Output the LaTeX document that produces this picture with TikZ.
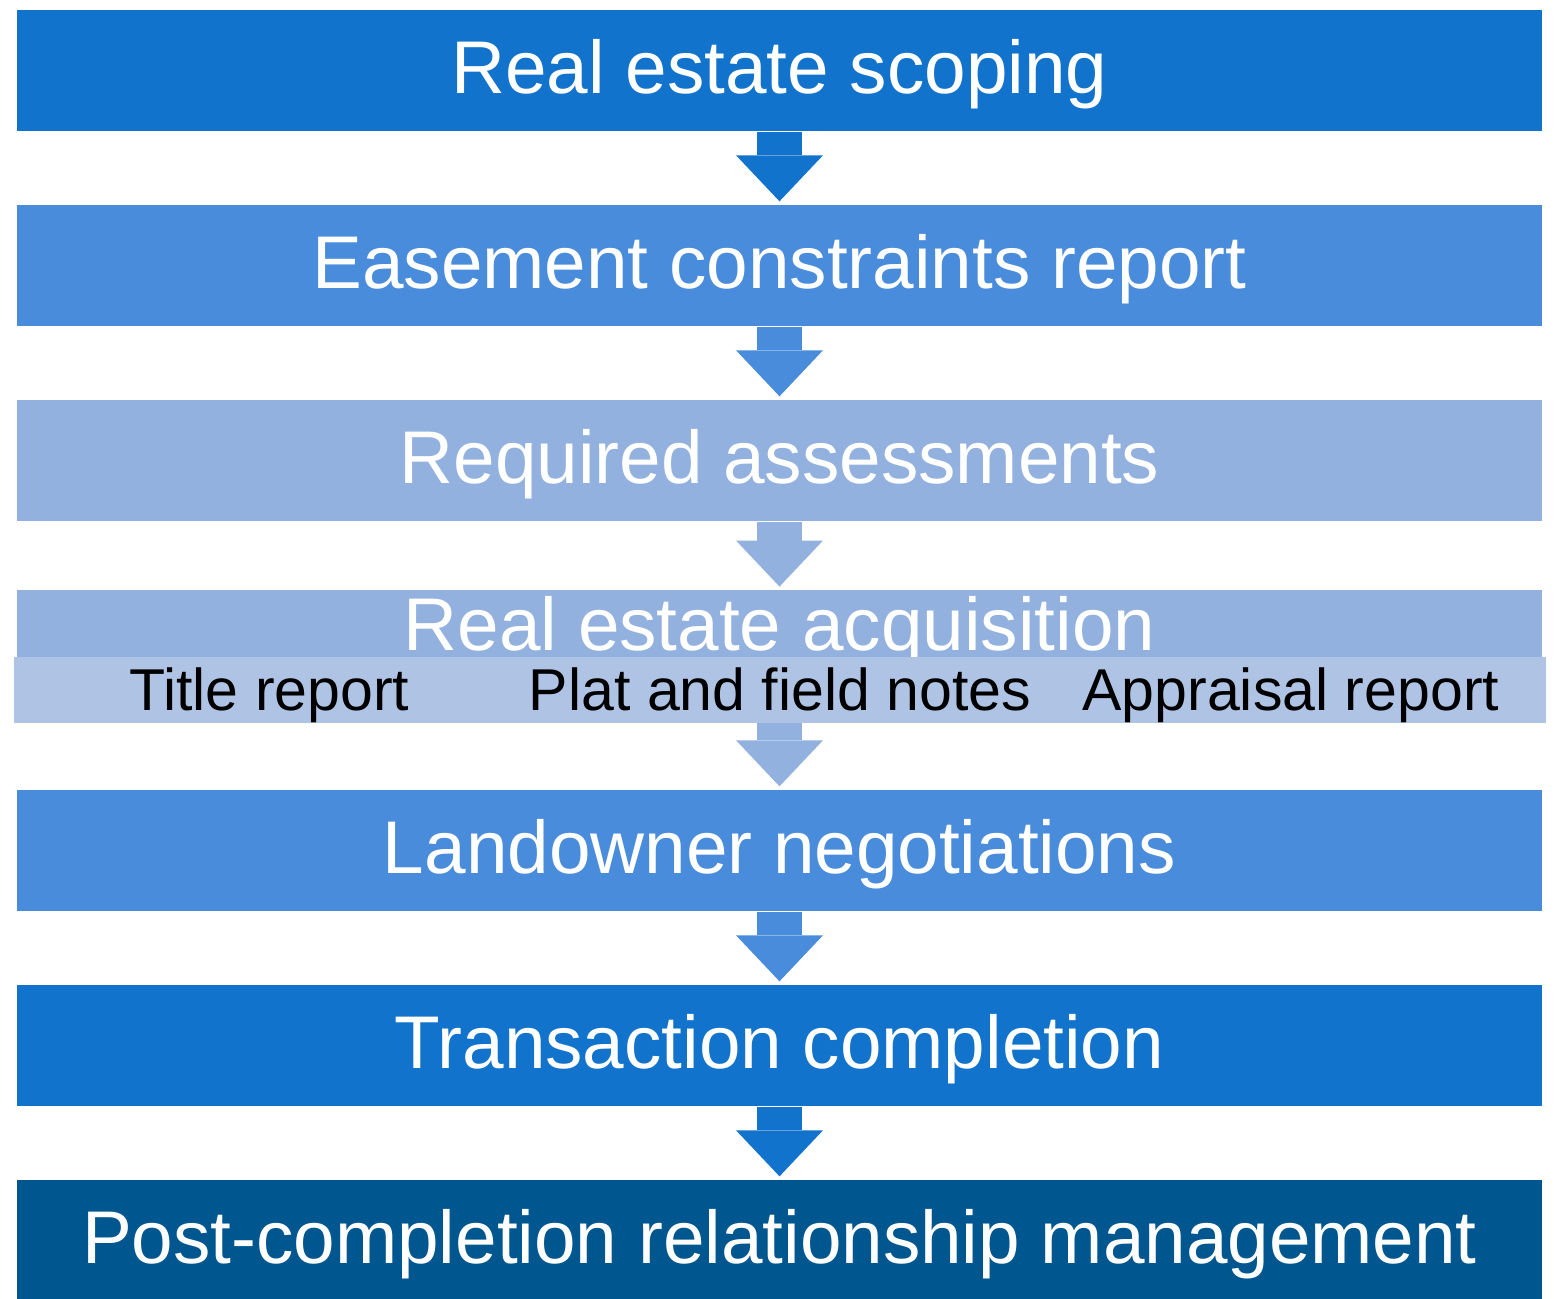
\documentclass[tikz,border=0pt]{standalone}
\usepackage{fontspec}
\setmainfont{Liberation Sans}
\usetikzlibrary{arrows.meta}

\definecolor{deepblue}{HTML}{1173CB}
\definecolor{midblue}{HTML}{4A8CDC}
\definecolor{paleblue}{HTML}{92B1DF}
\definecolor{cellblue}{HTML}{AFC3E4}
\definecolor{navyblue}{HTML}{00568F}

\begin{document}
\begin{tikzpicture}
    % Styles
    \tikzstyle{stage} = [rectangle, inner sep=0pt, minimum width=15.25cm, minimum height=1.21cm, text height=17pt, text depth=4.2pt, text=white, font=\fontsize{21.25}{25}\selectfont]
    \tikzstyle{cell} = [rectangle, inner sep=0pt, minimum width=5.107cm, minimum height=0.60cm, text height=15pt, text depth=3.6pt, fill=cellblue, text=black, font=\fontsize{16.8}{20}\selectfont]
    \tikzstyle{flow} = [line width=0.45cm, -{Triangle[width=0.87cm, length=0.46cm, line width=0pt]}, shorten >=0.03cm]

    \useasboundingbox (0,0) rectangle (15.57,-12.98);

    % Stages
    \node[stage, fill=deepblue] (S1) at (7.795, -0.705) {Real estate scoping};
    \node[stage, fill=midblue] (S2) at (7.795, -2.655) {Easement constraints report};
    \node[stage, fill=paleblue] (S3) at (7.795, -4.605) {Required assessments};
    \node[stage, fill=paleblue, minimum height=0.65cm] (S4) at (7.795, -6.275) {Real estate acquisition};
    \node[stage, fill=midblue] (S5) at (7.795, -8.505) {Landowner negotiations};
    \node[stage, fill=deepblue] (S6) at (7.795, -10.455) {Transaction completion};
    \node[stage, fill=navyblue] (S7) at (7.795, -12.405) {Post-completion relationship management};

    % Acquisition documents
    \node[cell] (D1) at (2.694, -6.90) {Title report};
    \node[cell] (D2) at (7.801, -6.90) {Plat and field notes};
    \node[cell] (D3) at (12.908, -6.90) {Appraisal report};

    % Arrows
    \draw[flow, deepblue] (S1) -- (S2);
    \draw[flow, midblue] (S2) -- (S3);
    \draw[flow, paleblue] (S3) -- (S4);
    \draw[flow, paleblue] (D2.south -| S5.north) -- (S5);
    \draw[flow, midblue] (S5) -- (S6);
    \draw[flow, deepblue] (S6) -- (S7);
\end{tikzpicture}
\end{document}
